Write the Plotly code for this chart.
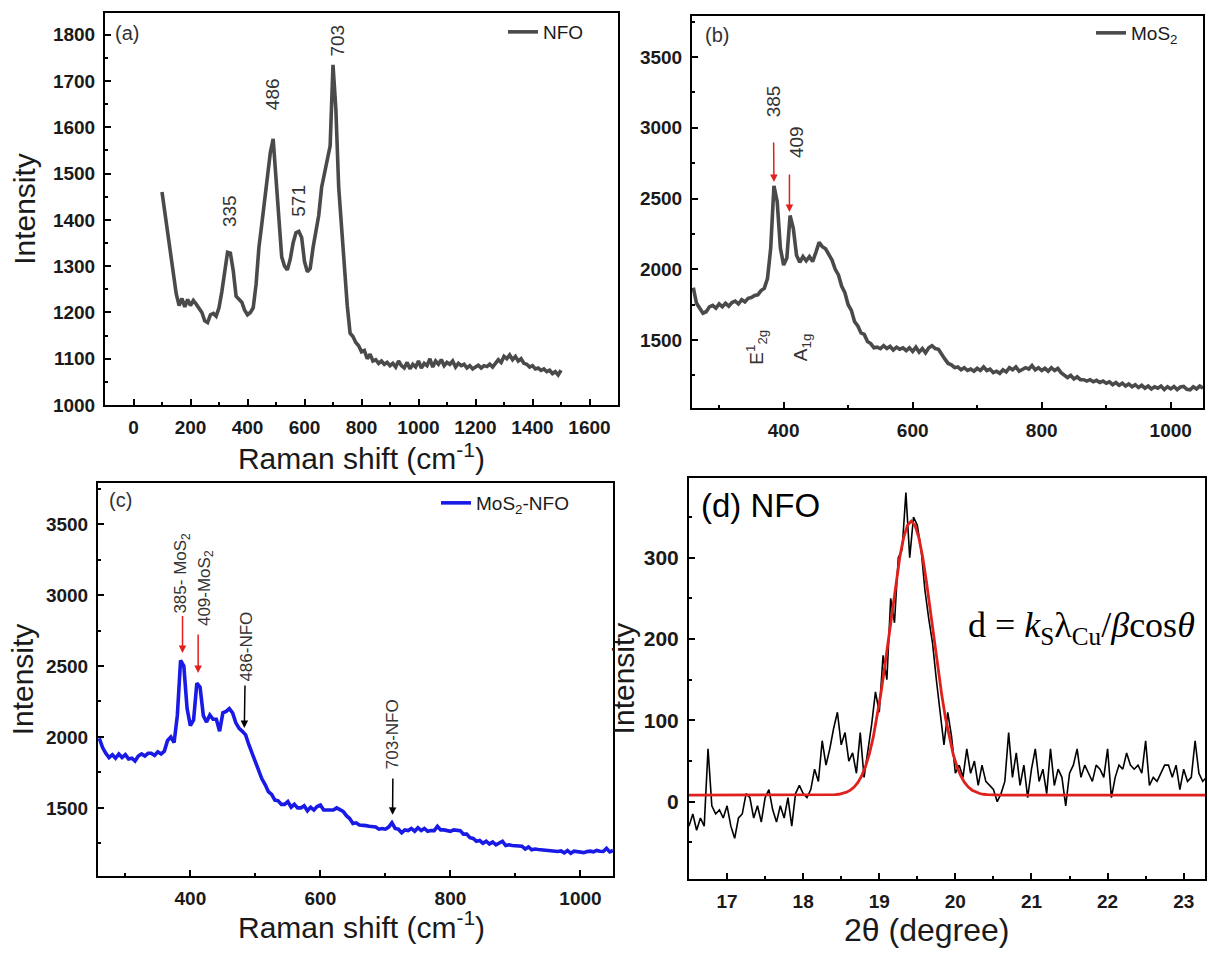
import numpy as np
import plotly.graph_objects as go

# ---------------- data ----------------
# (a) NFO Raman spectrum
nfo_x = list(range(100, 1501, 10))
nfo_y = [1460, 1415, 1375, 1330, 1280, 1240, 1215, 1230, 1212, 1228,
         1215, 1226, 1218, 1208, 1200, 1182, 1178, 1195, 1198, 1192,
         1210, 1245, 1290, 1330, 1328, 1290, 1235, 1228, 1222, 1205,
         1195, 1200, 1210, 1260, 1340, 1390, 1440, 1490, 1545, 1575,
         1490, 1390, 1320, 1300, 1292, 1315, 1350, 1372, 1375, 1362,
         1310, 1288, 1295, 1340, 1372, 1410, 1470, 1500, 1530, 1560,
         1735, 1640, 1470, 1380, 1280, 1215, 1155, 1148, 1135, 1128,
         1115, 1118, 1100, 1110, 1095, 1098, 1090, 1095, 1088, 1092,
         1085, 1090, 1082, 1095, 1085, 1080, 1092, 1078, 1088, 1082,
         1095, 1080, 1090, 1085, 1100, 1082, 1095, 1088, 1098, 1085,
         1092, 1088, 1095, 1082, 1090, 1085, 1088, 1080, 1085, 1078,
         1082, 1086, 1080, 1085, 1083, 1088, 1082, 1090, 1098, 1092,
         1105, 1100, 1108, 1098, 1105, 1095, 1100, 1090, 1088, 1082,
         1085, 1078, 1080, 1075, 1078, 1072, 1075, 1068, 1072, 1065,
         1075]

# (b) MoS2 Raman spectrum
mos2_x = list(range(260, 1051, 5))
mos2_y = [1870, 1760, 1725, 1690, 1700, 1735, 1745, 1725, 1755, 1735,
          1760, 1740, 1765, 1775, 1755, 1785, 1770, 1795, 1800, 1815,
          1820, 1850, 1865, 1935, 2150, 2590, 2480, 2150, 2030, 2080,
          2380, 2290, 2100, 2050, 2090, 2060, 2090, 2055, 2120, 2190,
          2160, 2145, 2105, 2065, 2000, 1960, 1880, 1835, 1750, 1710,
          1630, 1600, 1550, 1540, 1490, 1475, 1445, 1450, 1440, 1460,
          1440, 1455, 1430, 1450, 1435, 1445, 1425, 1445, 1420, 1450,
          1415, 1440, 1410, 1445, 1460, 1440, 1435, 1395, 1365, 1335,
          1325, 1305, 1310, 1290, 1305, 1285, 1295, 1280, 1300, 1285,
          1310, 1285, 1295, 1270, 1280, 1265, 1290, 1275, 1305, 1290,
          1310, 1280, 1295, 1305, 1295, 1320, 1290, 1305, 1285, 1300,
          1280, 1305, 1285, 1300, 1270, 1255, 1235, 1250, 1225, 1240,
          1220, 1220, 1210, 1220, 1205, 1215, 1200, 1210, 1195, 1205,
          1185, 1200, 1180, 1195, 1175, 1190, 1170, 1185, 1165, 1180,
          1160, 1175, 1155, 1170, 1160, 1175, 1150, 1170, 1155, 1172,
          1150, 1168, 1172, 1152, 1148, 1170, 1155, 1175, 1160]

# (c) MoS2-NFO Raman spectrum
comp_x = list(range(260, 1051, 5))
comp_y = [1990, 1925, 1885, 1855, 1875, 1850, 1880, 1855, 1875, 1845,
          1850, 1830, 1865, 1880, 1865, 1885, 1885, 1870, 1895, 1880,
          1900, 1975, 2000, 1960, 2150, 2540, 2500, 2200, 2080, 2120,
          2380, 2350, 2150, 2105, 2155, 2125, 2125, 2040, 2170, 2180,
          2200, 2170, 2100, 2060, 2040, 2015, 1945, 1885, 1815, 1765,
          1705, 1665, 1615, 1595, 1555, 1550, 1525, 1525, 1545, 1505,
          1525, 1500, 1500, 1515, 1480, 1505, 1485, 1510, 1520, 1485,
          1485, 1480, 1485, 1500, 1485, 1475, 1445, 1425, 1390, 1395,
          1380, 1380, 1375, 1370, 1365, 1365, 1350, 1355, 1350, 1365,
          1395, 1355, 1350, 1325, 1345, 1340, 1355, 1335, 1360, 1340,
          1355, 1335, 1340, 1340, 1370, 1345, 1345, 1340, 1335, 1345,
          1340, 1340, 1315, 1315, 1290, 1285, 1265, 1270, 1250, 1265,
          1245, 1260, 1240, 1255, 1265, 1235, 1240, 1235, 1235, 1230,
          1230, 1210, 1225, 1205, 1210, 1207, 1205, 1200, 1200, 1195,
          1195, 1193, 1197, 1183, 1200, 1180, 1195, 1190, 1190, 1185,
          1193, 1195, 1190, 1200, 1195, 1193, 1215, 1190, 1200]

# (d) NFO XRD peak
xrd_x = [round(16.5 + 0.05 * i, 2) for i in range(137)]
xrd_y = [-30, -15, -35, -20, -30, 65, -5, -15, -10, -20,
         -5, -30, -45, -20, -15, 10, 5, -20, -5, -25,
         5, 15, -10, -25, -5, -20, 5, -30, 10, 20,
         10, 5, 15, 40, 25, 75, 45, 65, 90, 110,
         70, 85, 50, 60, 35, 85, 30, 60, 95, 135,
         110, 180, 150, 250, 220, 300, 310, 380, 300, 350,
         340, 310, 260, 225, 195, 150, 110, 70, 110, 80,
         35, 45, 30, 65, 35, 50, 20, 45, 25, 20,
         15, 0, 10, 25, 85, 30, 60, 20, 45, 5,
         40, 65, 25, 40, 10, 65, 20, 40, 30, -5,
         35, 45, 65, 30, 45, 35, 25, 45, 40, 30,
         65, 5, 30, 45, 40, 60, 45, 40, 45, 35,
         75, 20, 30, 25, 35, 45, 45, 30, 45, 15,
         40, 25, 30, 75, 35, 25, 30]

# Gaussian fit curve (centre 19.42)
fit_x = [16.5, 18.0] + [round(18.42 + 0.05 * i, 2) for i in range(41)] + [20.62, 23.3]
fit_y = [8, 8,
         8.7, 9.2, 10.1, 11.7, 14.2, 18.0, 23.8, 32.0, 43.6, 58.9,
         78.8, 103.1, 132.0, 164.7, 200.1, 236.0, 270.5, 300.8, 324.6, 339.8,
         345.0,
         339.8, 324.6, 300.8, 270.5, 236.0, 200.1, 164.7, 132.0, 103.1, 78.8,
         58.9, 43.6, 32.0, 23.8, 18.0, 14.2, 11.7, 10.1, 9.2, 8.7,
         8, 8]

assert len(nfo_x) == len(nfo_y)
assert len(mos2_x) == len(mos2_y)
assert len(comp_x) == len(comp_y)
assert len(xrd_x) == len(xrd_y)
assert len(fit_x) == len(fit_y)

# ---------------- styling ----------------
W, H = 1208, 953
FONT = "Liberation Sans, Arial, sans-serif"
GRAY = "#4a4a4a"
BLUE = "#1a1ae6"
RED = "#e0201c"


def px_x(p):
    return p / W


def px_y(p):
    return 1 - p / H


fig = go.Figure()

fig.add_trace(go.Scatter(x=nfo_x, y=nfo_y, mode="lines", name="NFO",
                         line=dict(color=GRAY, width=3.6),
                         xaxis="x", yaxis="y", legend="legend"))
fig.add_trace(go.Scatter(x=mos2_x, y=mos2_y, mode="lines", name="MoS<sub>2</sub>",
                         line=dict(color=GRAY, width=3.6),
                         xaxis="x2", yaxis="y2", legend="legend2"))
fig.add_trace(go.Scatter(x=comp_x, y=comp_y, mode="lines", name="MoS<sub>2</sub>-NFO",
                         line=dict(color=BLUE, width=3.6),
                         xaxis="x3", yaxis="y3", legend="legend3"))
fig.add_trace(go.Scatter(x=xrd_x, y=xrd_y, mode="lines", name="XRD",
                         line=dict(color="black", width=1.6),
                         xaxis="x4", yaxis="y4", showlegend=False))
fig.add_trace(go.Scatter(x=fit_x, y=fit_y, mode="lines", name="fit",
                         line=dict(color=RED, width=2.8),
                         xaxis="x4", yaxis="y4", showlegend=False))


def axis(domain, rng, dtick, minor, title=None, standoff=None, anchor=None,
         tick0=0, fsize=19):
    d = dict(domain=domain, range=rng, dtick=dtick, tick0=tick0,
             ticks="inside", ticklen=6, tickwidth=2, tickcolor="black",
             minor=dict(ticks="inside", ticklen=3, tickwidth=1.5, dtick=minor,
                        tickcolor="black", showgrid=False),
             showline=True, linewidth=2, linecolor="black", mirror=True,
             showgrid=False, zeroline=False, automargin=False,
             tickfont=dict(family=FONT, size=fsize, color="#1a1a1a", weight="bold"),
             ticklabelstandoff=4)
    if anchor:
        d["anchor"] = anchor
    if title:
        d["title"] = dict(text=title, font=dict(family=FONT, size=30, color="#1a1a1a"),
                          standoff=standoff)
    return d


fig.update_layout(
    width=W, height=H,
    margin=dict(l=0, r=0, t=0, b=0, autoexpand=False),
    paper_bgcolor="white", plot_bgcolor="white",
    xaxis=axis([px_x(105), px_x(618)], [-100, 1700], 200, 100,
               "Raman shift (cm<sup>-1</sup>)", 4, "y"),
    yaxis=axis([px_y(405), px_y(13)], [1000, 1847], 100, 50,
               "Intensity", 8, "x"),
    xaxis2=axis([px_x(692), px_x(1203)], [258, 1050], 200, 100, anchor="y2"),
    yaxis2=axis([px_y(408), px_y(16)], [1020, 3790], 500, 250, anchor="x2"),
    xaxis3=axis([px_x(98), px_x(613)], [258, 1050], 200, 100, anchor="y3"),
    yaxis3=axis([px_y(876), px_y(483)], [1020, 3790], 500, 250,
                "Intensity", 3, "x3"),
    xaxis4=axis([px_x(689), px_x(1205)], [16.5, 23.28], 1, 0.5, anchor="y4"),
    yaxis4=axis([px_y(879), px_y(478)], [-95, 398], 100, 50,
                "Intensity", 0, "x4", fsize=21),
    legend=dict(x=px_x(503), y=px_y(32), xanchor="left", yanchor="middle",
                bgcolor="rgba(0,0,0,0)", font=dict(family=FONT, size=19, color="#1a1a1a")),
    legend2=dict(x=px_x(1091), y=px_y(33), xanchor="left", yanchor="middle",
                 bgcolor="rgba(0,0,0,0)", font=dict(family=FONT, size=19, color="#1a1a1a")),
    legend3=dict(x=px_x(436), y=px_y(503), xanchor="left", yanchor="middle",
                 bgcolor="rgba(0,0,0,0)", font=dict(family=FONT, size=19, color="#1a1a1a")),
)

ann = []


def label(text, x, y, xr, yr, size=19, angle=-90):
    ann.append(dict(text=text, x=x, y=y, xref=xr, yref=yr, showarrow=False,
                    textangle=angle, xanchor="center", yanchor="middle",
                    font=dict(family=FONT, size=size, color="#333333")))


def label_arrow(text, tx, ty, hx, hy, xr, yr, color, gap, size=19):
    # rotated label at (tx, ty) with an arrow pointing down to (hx, hy)
    ann.append(dict(text=text, x=hx, y=hy, ax=tx, ay=ty, xref=xr, yref=yr,
                    axref=xr, ayref=yr, showarrow=True, arrowhead=2, arrowsize=1,
                    arrowwidth=1.5, arrowcolor=color, standoff=0, startstandoff=gap,
                    textangle=-90, font=dict(family=FONT, size=size, color="#333333")))


def arrow(x, y_tail, y_head, xr, yr, color):
    ann.append(dict(text="", x=x, y=y_head, ax=x, ay=y_tail, xref=xr, yref=yr,
                    axref=xr, ayref=yr, showarrow=True, arrowhead=2, arrowsize=1,
                    arrowwidth=1.5, arrowcolor=color, standoff=0))


def paper_text(text, x, y, size, color="#333333", anchor="left", family=FONT, angle=0):
    ann.append(dict(text=text, x=px_x(x), y=px_y(y), xref="paper", yref="paper",
                    showarrow=False, xanchor=anchor, yanchor="middle", textangle=angle,
                    font=dict(family=family, size=size, color=color)))


# panel labels
paper_text("(a)", 113, 33, 20)
paper_text("(b)", 703, 35, 20)
paper_text("(c)", 107, 500, 20)
paper_text("(d) NFO", 699, 505, 33, color="black")
paper_text("d = <i>k</i><sub>S</sub>λ<sub>Cu</sub>/<i>β</i>cos<i>θ</i>", 1081, 627, 36,
           color="black", anchor="center",
           family="Liberation Serif, Times New Roman, serif")
# x titles of (c) and (d), placed where the figure has them
paper_text("Raman shift (cm<sup>-1</sup>)", 362, 925, 30, color="#1a1a1a", anchor="center")
paper_text("2θ (degree)", 927, 930, 32, color="#1a1a1a", anchor="center")

# (a) peak labels
label("335", 335, 1419, "x", "y")
label("486", 490, 1672, "x", "y")
label("571", 580, 1441, "x", "y")
label("703", 715, 1788, "x", "y")

# (b)
label_arrow("385", 384, 3189, 385, 2617, "x2", "y2", RED, 24)
label("409", 421, 2900, "x2", "y2")
arrow(409, 2680, 2405, "x2", "y2", RED)
label("E<sup>1</sup><sub>2g</sub>", 358, 1450, "x2", "y2")
label("A<sub>1g</sub>", 429, 1445, "x2", "y2")

# (c)
label_arrow("385- MoS<sub>2</sub>", 388, 3155, 388, 2592, "x3", "y3", RED, 1, size=17)
label("409-MoS<sub>2</sub>", 424, 3049, "x3", "y3", size=17)
arrow(412, 2732, 2451, "x3", "y3", RED)
label_arrow("486-NFO", 485, 2634, 483, 2063, "x3", "y3", "black", 2, size=17)
label_arrow("703-NFO", 712, 2021, 711, 1451, "x3", "y3", "black", 8, size=17)

fig.update_layout(annotations=ann)

fig.write_html("out.html", config={"displayModeBar": False},
               post_script="document.body.style.margin='0';")
